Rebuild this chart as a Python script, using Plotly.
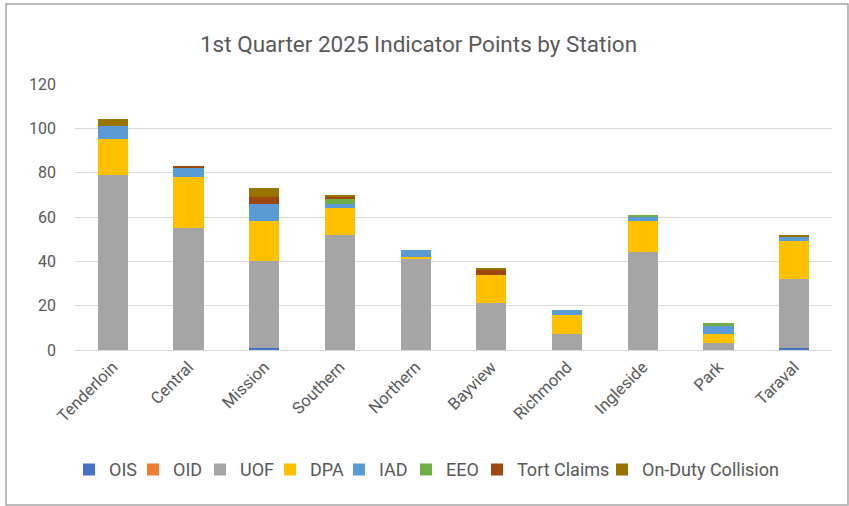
import plotly.graph_objects as go

stations = ["Tenderloin", "Central", "Mission", "Southern", "Northern",
            "Bayview", "Richmond", "Ingleside", "Park", "Taraval"]
OIS = [0, 0, 1, 0, 0, 0, 0, 0, 0, 1]
OID = [0, 0, 0, 0, 0, 0, 0, 0, 0, 0]
UOF = [79, 55, 39, 52, 41, 21, 7, 44, 3, 31]
DPA = [16, 23, 18, 12, 1, 13, 9, 14, 4, 17]
IAD = [6, 4, 8, 2, 3, 0, 2, 2, 4, 2]
EEO = [0, 0, 0, 2, 0, 0, 0, 1, 1, 0]
TORT = [0, 1, 3, 1, 0, 2, 0, 0, 0, 0]
ODC = [3, 0, 4, 1, 0, 1, 0, 0, 0, 1]

series = [
    ("OIS", OIS, "#4472C4"),
    ("OID", OID, "#ED7D31"),
    ("UOF", UOF, "#A5A5A5"),
    ("DPA", DPA, "#FFC000"),
    ("IAD", IAD, "#5B9BD5"),
    ("EEO", EEO, "#70AD47"),
    ("Tort Claims", TORT, "#9E480E"),
    ("On-Duty Collision", ODC, "#997300"),
]

# pixel x where each legend entry's text starts
legend_text_px = [109, 173, 240, 310, 379, 446, 517, 642]

PLOT_L, PLOT_W = 75, 757

fig = go.Figure()
legend_layout = {}
for i, ((name, vals, color), tx) in enumerate(zip(series, legend_text_px)):
    key = "legend" if i == 0 else f"legend{i + 1}"
    fig.add_trace(go.Bar(name=name, x=stations, y=vals, marker_color=color,
                         marker_line_width=0, legend=key, showlegend=True))
    legend_layout[key] = dict(
        orientation="h", x=(tx - 40 - PLOT_L) / PLOT_W, xanchor="left",
        y=-0.45, yanchor="middle", font=dict(size=18, color="#595959"),
        itemwidth=30, bgcolor="rgba(0,0,0,0)")

fig.update_layout(
    barmode="stack",
    bargap=0.6,
    showlegend=True,
    width=849, height=506,
    paper_bgcolor="white", plot_bgcolor="white",
    margin=dict(l=75, r=17, t=84, b=156),
    font=dict(family="Roboto, Arial, sans-serif", color="#595959", size=14),
    title=dict(text="1st Quarter 2025 Indicator Points by Station",
               x=0.493, xanchor="center", y=0.913, yanchor="middle",
               font=dict(size=22.5, color="#595959")),
    xaxis=dict(tickangle=-45, showgrid=False, showline=True,
               linecolor="#D9D9D9", ticks="", tickfont=dict(size=16.5)),
    yaxis=dict(range=[0, 120], dtick=20, gridcolor="#D9D9D9",
               zeroline=False, ticks="", tickfont=dict(size=16),
               ticklabelstandoff=18),
    shapes=[dict(type="rect", xref="paper", yref="paper",
                 x0=-69 / 757, x1=(848 - 75) / 757,
                 y0=-155 / 266, y1=(350 - 4) / 266,
                 line=dict(color="#A6A6A6", width=1.5))],
    **legend_layout,
)

fig.write_html("out.html", config={"displayModeBar": False},
               post_script="document.body.style.margin='0';")
